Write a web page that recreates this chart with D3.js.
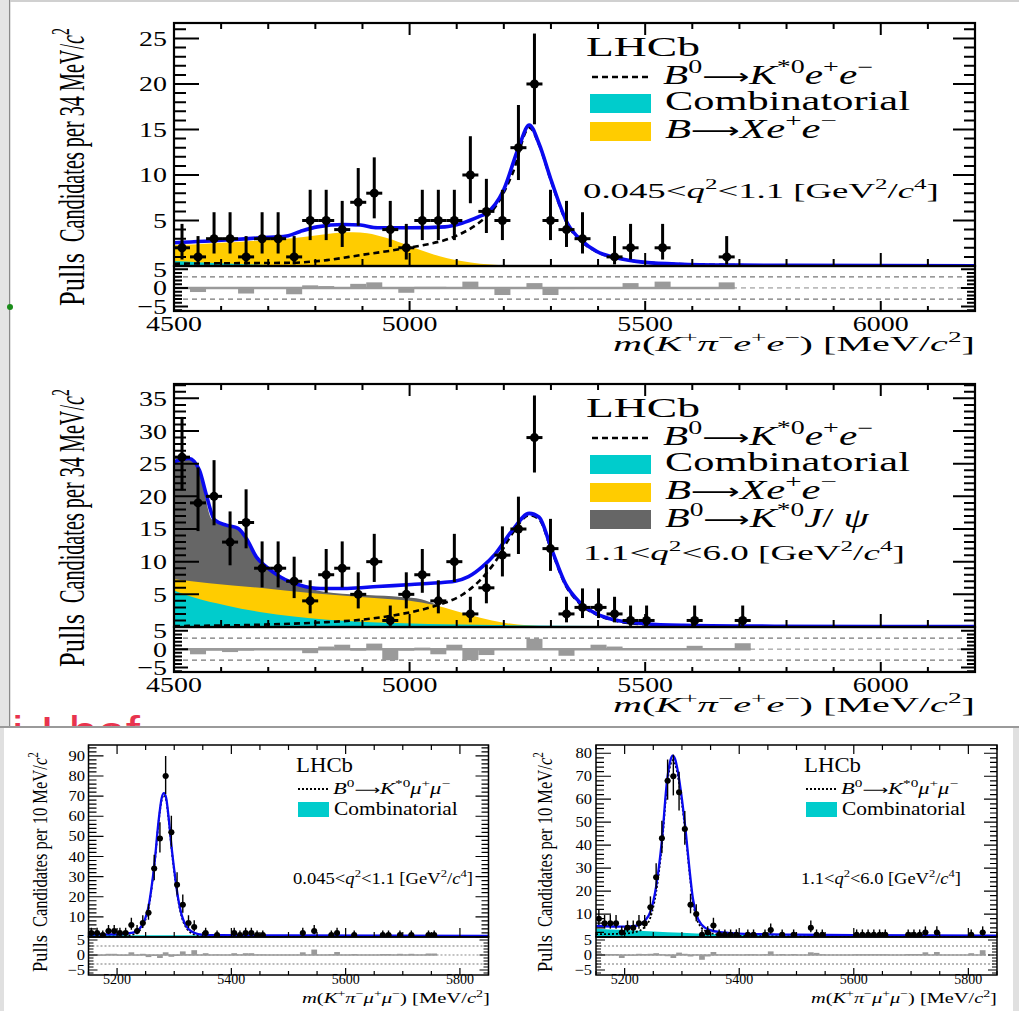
<!DOCTYPE html>
<html><head><meta charset="utf-8">
<script src="https://cdn.jsdelivr.net/npm/d3@7"></script>
<style>body{margin:0;background:#fff}svg{display:block}</style>
</head><body>
<script>
// ================= DATA =================
// Panel A: B0 -> K*0 e+e-, 0.045 < q2 < 1.1 (34 MeV bins)
const eeLowMass   = [4517,4551,4585,4619,4653,4687,4721,4755,4789,4823,4857,4891,4925,4959,4993,5027,5061,5095,5129,5163,5197,5231,5265,5299,5333,5367,5435,5469,5537,5673];
const eeLowCounts = [2,1,3,3,1,3,3,1,5,5,4,7,8,4,2,5,5,5,10,6,5,13,20,5,4,3,1,2,2,1];
const eeLowPulls  = [-0.3,-1.1,0.2,0.2,-1.5,0.1,0.1,-1.7,0.7,0.5,0.0,1.1,1.5,0.0,-1.3,0.3,0.3,0.2,1.7,0.2,-1.9,-0.2,1.3,-1.9,-0.3,0.0,0.1,1.3,1.7,1.5];
const eeLowTotalMass = [4500,4611,4682,4739,4768,4804,4861,4896,4932,5004,5075,5111,5146,5163,5199,5232,5254,5275,5300,5335,5367,5397,5438,5500,5580,5700,6000,6200];
const eeLowTotal     = [2.55,2.85,3.1,3.3,3.8,4.3,4.56,4.5,4.2,4.2,4.3,4.7,5.4,5.8,8.3,13.1,15.5,13.4,9.5,4.7,2.7,1.6,0.9,0.4,0.2,0.1,0.04,0.02];
const eeLowSigMass   = [4500,4600,4700,4754,4825,4896,4968,5039,5075,5111,5146,5182,5218,5254,5275,5300,5335,5367,5400,5450,5500,5600,5800,6200];
const eeLowSig       = [0.25,0.3,0.33,0.36,0.65,1.2,1.75,2.4,2.85,3.6,4.7,6.5,10.1,15.2,13.3,9.4,4.6,2.6,1.5,0.8,0.4,0.18,0.06,0.01];
const eeLowXeeMass   = [4500,4550,4600,4650,4700,4750,4800,4850,4880,4910,4950,5000,5040,5080,5110,5150,5180,5220,5260];
const eeLowXee       = [2.3,2.4,2.55,2.7,2.85,3.05,3.35,3.65,3.7,3.6,3.1,2.2,1.45,0.85,0.55,0.25,0.13,0.04,0];
const eeLowCombMass  = [4500,4550,4600,4650,4700,4800,4900,5000,5200,6200];
const eeLowComb      = [0.55,0.42,0.3,0.2,0.12,0.06,0.03,0.02,0.01,0];

// Panel B: B0 -> K*0 e+e-, 1.1 < q2 < 6.0 (34 MeV bins)
const eeCenMass   = [4517,4551,4585,4619,4653,4687,4721,4755,4789,4823,4857,4891,4925,4959,4993,5027,5061,5095,5129,5163,5197,5231,5265,5299,5333,5367,5401,5435,5469,5503,5605,5707];
const eeCenCounts = [26,19,20,13,16,9,9,7,4,8,9,5,10,1,5,8,4,10,2,6,11,15,29,12,2,3,3,2,1,1,1,1];
const eeCenPulls  = [0.1,-1.4,-0.4,-0.8,-0.4,-0.2,0.0,0.0,-1.1,0.7,1.2,-0.4,1.5,-3.0,-0.4,0.4,-1.4,1.2,-3.0,-1.6,-0.1,0.0,2.8,0.0,-1.8,-0.1,1.2,0.7,0.3,0.3,0.9,1.6];
const eeCenTotalMass = [4500,4532,4554,4568,4586,4611,4636,4654,4675,4696,4725,4768,4811,4868,4932,5004,5075,5096,5125,5154,5182,5218,5254,5275,5300,5331,5361,5397,5434,5500,5581,5700,6000,6200];
const eeCenTotal     = [25.3,25.8,24.0,20.4,16.4,15.6,15.1,13.5,10.7,9.2,7.7,6.4,5.9,5.9,6.2,6.5,6.85,7.0,7.7,9.2,11.2,14.8,17.4,16.8,12.2,6.6,3.8,2.0,1.1,0.5,0.25,0.15,0.08,0.05];
const eeCenSigMass   = [4500,4682,4825,4896,4968,5039,5075,5111,5146,5182,5218,5254,5275,5300,5331,5361,5397,5434,5500,5600,5800,6200];
const eeCenSig       = [0.15,0.35,0.75,1.1,1.8,2.9,3.7,4.9,6.9,10.0,14.3,17.1,16.5,12.0,6.4,3.6,1.9,1.0,0.4,0.15,0.05,0.01];
const eeCenJpsiMass  = [4500,4532,4554,4580,4611,4636,4654,4675,4696,4725,4768,4804,4839,4911,4982,5025,5060];
const eeCenJpsi      = [25.2,25.6,23.8,16.5,15.6,15.0,13.4,10.8,9.5,7.7,6.4,5.6,5.2,4.9,4.6,4.25,3.3];
const eeCenXeeMass   = [4500,4575,4682,4789,4896,4968,5000,5050,5100,5150,5200,5250,5300,5350];
const eeCenXee       = [7.3,6.7,6.0,5.2,4.6,4.2,4.0,3.4,2.4,1.4,0.65,0.25,0.08,0];
const eeCenCombMass  = [4500,4539,4611,4682,4754,4825,4896,4968,5039,5182,5325,5500,5800,6200];
const eeCenComb      = [5.6,4.6,3.3,2.3,1.6,1.1,0.8,0.6,0.45,0.3,0.2,0.12,0.07,0.04];

// Panel C: B0 -> K*0 mu+mu-, 0.045 < q2 < 1.1 (10 MeV bins)
const mmLowMass   = [5155,5165,5175,5185,5195,5205,5215,5225,5235,5245,5255,5265,5275,5285,5295,5305,5315,5325,5335,5355,5375,5405,5415,5425,5435,5445,5455,5525,5545,5575,5585,5615,5665,5675,5695,5715,5745,5755];
const mmLowCounts = [2,2,1,3,3,2,2,6,3,7,12,34,49,80,52,26,16,7,5,2,1,2,1,2,2,1,1,2,3,1,2,1,1,1,1,1,1,1];
const mmLowPulls  = [-0.4,-0.3,-0.2,0.4,0.4,-0.2,-0.2,0.9,-0.1,0.4,-0.7,-0.3,-1.0,0.9,-0.6,-0.3,1.2,0.2,1.6,0.6,0.1,0.6,0.1,0.6,0.6,0.1,0.1,0.9,1.8,0.2,1.0,0.3,0.3,0.3,0.4,0.4,0.5,0.5];
const mmLowTotalMass = [5150,5200,5225,5235,5243,5249,5255,5260,5266,5272,5278,5282,5286,5290,5296,5302,5307,5313,5319,5325,5336,5348,5380,5500,5850];
const mmLowTotal     = [1.2,1.3,2.0,3.0,5.5,9,15,24,38,56,69,71.5,69,60,43,29,19,11,6.5,4.0,2.0,1.2,0.9,0.8,0.6];
const mmLowSig       = [0.2,0.35,1.05,2.05,4.55,8.05,14.05,23.05,37.05,55.05,68.05,70.55,68.05,59.1,42.1,28.1,18.1,10.1,5.6,3.1,1.15,0.4,0.1,0.1,0.05];
const mmLowCombMass  = [5150,5300,5500,5850];
const mmLowComb      = [1.0,0.85,0.7,0.55];

// Panel D: B0 -> K*0 mu+mu-, 1.1 < q2 < 6.0 (10 MeV bins)
const mmCenMass   = [5155,5165,5175,5185,5195,5205,5215,5225,5235,5245,5255,5265,5275,5285,5295,5305,5315,5325,5335,5345,5355,5365,5375,5385,5395,5415,5425,5445,5455,5475,5495,5525,5535,5545,5605,5615,5625,5635,5645,5655,5695,5705,5715,5725,5745,5805,5825];
const mmCenCounts = [8,6,6,6,2,4,4,6,6,13,26,43,68,70,63,47,14,10,1,2,5,1,1,1,1,1,1,1,3,1,1,4,1,1,1,1,1,1,1,1,1,1,1,2,2,1,2];
const mmCenPulls  = [0.6,0.3,0.3,0.3,-1.0,-0.2,-0.2,0.4,0.3,0.4,0.6,0.2,-0.4,-1.0,0.8,0.4,-0.5,0.1,-1.6,-0.5,1.0,0.1,0.1,0.1,0.1,0.2,0.2,0.2,1.2,0.3,0.3,0.9,0.7,0.2,0.2,0.2,0.2,0.2,0.2,0.2,0.3,0.3,0.3,0.9,1.0,0.6,1.6];
const mmCenTotalMass = [5150,5200,5220,5235,5245,5255,5265,5274,5280,5284,5288,5293,5300,5307,5313,5319,5325,5334,5349,5372,5400,5500,5600,5850];
const mmCenTotal     = [4.8,4.5,4.9,7.0,11,22,42,68,77,79,77.5,72,60,45,30,17,10,5.5,3.0,2.0,1.5,1.0,0.8,0.6];
const mmCenSig       = [1.2,1.5,2.2,4.4,8.5,19.6,39.7,65.8,75,77,75.5,70,58.2,43.3,28.5,15.6,8.7,4.1,1.8,0.9,0.5,0.4,0.4,0.4];
const mmCenCombMass  = [5150,5200,5250,5300,5335,5400,5500,5600,5700,5850];
const mmCenComb      = [3.6,3.0,2.4,1.8,1.4,1.0,0.6,0.4,0.3,0.2];

// Tick labels
const eeXLabels = [4500,5000,5500,6000];
const mmXLabels = [5200,5400,5600,5800];
const pullLabels = [5,0,-5];

// ================= DRAWING =================
const W = 1019, H = 1011;
const svg = d3.select("body").append("svg").attr("width", W).attr("height", H)
  .style("font-family", "'Liberation Serif','Times New Roman',serif");
const defs = svg.append("defs");

const C = { blue:"#0a0af0", cyan:"#00cccc", yellow:"#ffcc00", jpsi:"#666666", pull:"#9a9a9a" };

// page decorations (screenshot surroundings)
svg.append("rect").attr("x",0).attr("y",0).attr("width",8).attr("height",727).attr("fill","#e4e4e4");
svg.append("line").attr("x1",9.5).attr("x2",9.5).attr("y1",0).attr("y2",727).attr("stroke","#8a8a8a").attr("stroke-width",1.5);
svg.append("line").attr("x1",10).attr("x2",W).attr("y1",1).attr("y2",1).attr("stroke","#d0d0d0").attr("stroke-width",2);
svg.append("circle").attr("cx",10).attr("cy",307).attr("r",3).attr("fill","#1a8c1a");
const redClip = defs.append("clipPath").attr("id","redclip");
redClip.append("rect").attr("x",10).attr("y",700).attr("width",200).attr("height",26);
const redG = svg.append("g").attr("clip-path","url(#redclip)");
redG.append("text").attr("x",12).attr("y",746).attr("font-size",42).attr("fill","#e8344e")
  .attr("textLength",128).attr("lengthAdjust","spacingAndGlyphs")
  .style("font-family","'Liberation Sans',sans-serif").text("i-Lbef");
svg.append("rect").attr("x",0).attr("y",726).attr("width",W).attr("height",2).attr("fill","#9a9a9a");
svg.append("rect").attr("x",0).attr("y",728).attr("width",4).attr("height",H-728).attr("fill","#e0e0e0");
svg.append("rect").attr("x",1013).attr("y",728).attr("width",6).attr("height",H-728).attr("fill","#e0e0e0");

// ---------- text helpers ----------
function rich(sel, parts, fs) {
  let cur = 0;
  parts.forEach(p => {
    const s = p[0], f = p[1] || "";
    const t = sel.append("tspan").text(s);
    let target = 0, size = fs;
    if (f.includes("^")) { target = -0.42 * fs; size = 0.68 * fs; }
    if (target !== cur) { t.attr("dy", target - cur); cur = target; }
    t.attr("font-size", size);
    if (f.includes("i")) t.attr("font-style", "italic");
    if (f.includes("a")) t.style("font-family", "'DejaVu Sans',sans-serif").attr("font-size", size * 0.8);
  });
}
function label(parent, parts, o) {
  const g = parent.append("g");
  const t = g.append("text").attr("font-size", o.fs).style("white-space", "pre").attr("fill", o.color || "#000");
  if (typeof parts === "string" || typeof parts === "number") parts = [[String(parts)]];
  rich(t, parts, o.fs);
  const w = t.node().getBBox().width;
  const sx = o.width ? o.width / w : (o.sx || 1);
  const sy = o.sy || 1;
  const W2 = w * sx;
  const dx = o.anchor === "end" ? -W2 : o.anchor === "middle" ? -W2 / 2 : 0;
  t.attr("transform", `translate(${dx},0) scale(${sx},${sy})`);
  g.attr("transform", o.rotate ? `translate(${o.x},${o.y}) rotate(-90)` : `translate(${o.x},${o.y})`);
  return g;
}

function garwood(n) {
  if (n === 0) return [0, 1.841];
  const lo = n * Math.pow(1 - 1 / (9 * n) - 1 / (3 * Math.sqrt(n)), 3);
  const m = n + 1;
  const hi = m * Math.pow(1 - 1 / (9 * m) + 1 / (3 * Math.sqrt(m)), 3);
  return [lo, hi];
}
function rangeStep(a, b, s) { const out = []; for (let v = a; v <= b + 1e-9; v += s) out.push(+v.toFixed(6)); return out; }

// ---------- panel ----------
function drawPanel(c) {
  const g = svg.append("g");
  const x = d3.scaleLinear().domain(c.xDomain).range(c.xRange);
  const y = d3.scaleLinear().domain(c.yDomain).range(c.yRange);
  const yp = d3.scaleLinear().domain(c.pDomain).range(c.pRange);
  const [x0, x1] = c.xRange, yB = c.yRange[0], yT = c.yRange[1], pB = c.pRange[0];
  const cid = c.id + "-clip";
  defs.append("clipPath").attr("id", cid).append("rect")
    .attr("x", x0).attr("y", yT).attr("width", x1 - x0).attr("height", yB - yT);
  const plot = g.append("g").attr("clip-path", `url(#${cid})`);

  c.areas.forEach(a => {
    const area = d3.area().x((d, i) => x(a.mass[i])).y0(y(0)).y1(d => y(d)).curve(d3.curveMonotoneX);
    plot.append("path").datum(a.vals).attr("d", area).attr("fill", a.color);
  });
  const mkLine = m => d3.line().x((d, i) => x(m[i])).y(d => y(d)).curve(d3.curveMonotoneX);
  plot.append("path").datum(c.sig.vals).attr("d", mkLine(c.sig.mass)).attr("fill", "none")
    .attr("stroke", "#000").attr("stroke-width", c.st.sigW).attr("stroke-dasharray", c.st.sigDash);
  plot.append("path").datum(c.tot.vals).attr("d", mkLine(c.tot.mass)).attr("fill", "none")
    .attr("stroke", C.blue).attr("stroke-width", c.st.blueW);

  // data points
  const hb = c.bw / 2;
  const pts = plot.append("g").attr("stroke", "#000").attr("stroke-width", c.st.errW);
  c.mass.forEach((m, i) => {
    const n = c.counts[i], [lo, hi] = garwood(n);
    pts.append("line").attr("x1", x(m)).attr("x2", x(m)).attr("y1", y(lo)).attr("y2", y(hi));
    pts.append("line").attr("x1", x(m - hb)).attr("x2", x(m + hb)).attr("y1", y(n)).attr("y2", y(n));
    pts.append("circle").attr("cx", x(m)).attr("cy", y(n)).attr("r", c.st.r).attr("fill", "#000").attr("stroke", "none");
  });

  // pulls panel
  const pg = g.append("g");
  [3, -3].forEach(v => pg.append("line").attr("x1", x0).attr("x2", x1).attr("y1", yp(v)).attr("y2", yp(v))
    .attr("stroke", "#777").attr("stroke-width", 1.2).attr("stroke-dasharray", c.st.pullDash));
  pg.append("line").attr("x1", x0).attr("x2", x1).attr("y1", yp(0)).attr("y2", yp(0))
    .attr("stroke", "#888").attr("stroke-width", 1).attr("stroke-dasharray", c.st.pullDash);
  const lastM = c.mass[c.mass.length - 1];
  pg.append("line").attr("x1", x0).attr("x2", x(lastM + hb)).attr("y1", yp(0)).attr("y2", yp(0))
    .attr("stroke", C.pull).attr("stroke-width", c.st.zeroW);
  c.mass.forEach((m, i) => {
    const p = c.pulls[i];
    pg.append("rect").attr("x", x(m - hb)).attr("width", x(m + hb) - x(m - hb))
      .attr("y", Math.min(yp(0), yp(p))).attr("height", Math.abs(yp(p) - yp(0)))
      .attr("fill", C.pull);
  });

  // frame and ticks
  const fr = g.append("g").attr("stroke", "#000").attr("fill", "none");
  let d = "";
  const T = c.ticks;
  rangeStep(c.yDomain[0], c.yDomain[1], T.yMinor).forEach(v => {
    const major = Math.abs(v / T.yMajor - Math.round(v / T.yMajor)) < 1e-6;
    d += `M${x0},${y(v)}h${major ? T.yL : T.yl}M${x1},${y(v)}h${-(major ? T.yR : T.yr)}`;
  });
  rangeStep(Math.ceil(c.pDomain[0]), Math.floor(c.pDomain[1]), 1).forEach(v => {
    const major = v % 5 === 0;
    d += `M${x0},${yp(v)}h${major ? T.pL : T.pl}M${x1},${yp(v)}h${-(major ? T.pL : T.pl)}`;
  });
  rangeStep(c.xDomain[0], c.xDomain[1], T.xMinor).forEach(v => {
    const major = Math.abs(v / T.xMajor - Math.round(v / T.xMajor)) < 1e-6;
    const xv = x(v);
    d += `M${xv},${yT}v${major ? T.xT : T.xt}`;
    d += `M${xv},${yB}v${-(major ? T.xB : T.xb)}`;
    d += `M${xv},${pB}v${-(major ? T.xP : T.xp)}`;
  });
  fr.append("path").attr("d", d).attr("stroke-width", T.w);
  fr.append("rect").attr("x", x0).attr("y", yT).attr("width", x1 - x0).attr("height", yB - yT).attr("stroke-width", c.st.frameW);
  fr.append("rect").attr("x", x0).attr("y", yB).attr("width", x1 - x0).attr("height", pB - yB).attr("stroke-width", c.st.frameW);

  // tick labels
  const L = c.lab;
  rangeStep(c.yDomain[0] + T.yMajor, c.yDomain[1], T.yMajor).forEach(v =>
    label(g, String(v), { x: L.yRight, y: y(v) + L.yFs * 0.34, fs: L.yFs, sx: L.ySx, anchor: "end" }));
  pullLabels.forEach(v =>
    label(g, v < 0 ? "\u2212" + Math.abs(v) : String(v), { x: L.yRight, y: yp(v) + L.yFs * 0.34, fs: L.yFs, sx: L.ySx, anchor: "end" }));
  c.xLabels.forEach(v =>
    label(g, String(v), { x: x(v), y: L.xBase, fs: L.xFs, sx: L.xSx, anchor: "middle" }));
  return { x, y, g };
}

const AR = ["\u27F6", "a"];
const sigEE = [["B","i"],["0","^"],AR,["K","i"],["*0","^"],["e","i"],["+","^"],["e","i"],["\u2212","^"]];
const xeeP  = [["B","i"],AR,["X","i"],["e","i"],["+","^"],["e","i"],["\u2212","^"]];
const jpsiP = [["B","i"],["0","^"],AR,["K","i"],["*0","^"],["J","i"],["/ "],["\u03c8","i"]];
const sigMM = [["B","i"],["0","^"],AR,["K","i"],["*0","^"],["\u03bc","i"],["+","^"],["\u03bc","i"],["\u2212","^"]];
const q2Low = [["0.045<"],["q","i"],["2","^"],["<1.1 [GeV"],["2","^"],["/"],["c","i"],["4","^"],["]"]];
const q2Cen = [["1.1<"],["q","i"],["2","^"],["<6.0 [GeV"],["2","^"],["/"],["c","i"],["4","^"],["]"]];
const xTitleEE = [["m","i"],["("],["K","i"],["+","^"],["\u03c0","i"],["\u2212","^"],["e","i"],["+","^"],["e","i"],["\u2212","^"],[") [MeV/"],["c","i"],["2","^"],["]"]];
const xTitleMM = [["m","i"],["("],["K","i"],["+","^"],["\u03c0","i"],["\u2212","^"],["\u03bc","i"],["+","^"],["\u03bc","i"],["\u2212","^"],[") [MeV/"],["c","i"],["2","^"],["]"]];
const yTitle34 = [["Candidates per 34 MeV/"],["c","i"],["2","^"]];
const yTitle10 = [["Candidates per 10 MeV/"],["c","i"],["2","^"]];

const stEE = { sigW: 2.6, sigDash: "6,4", blueW: 3.6, errW: 3, r: 4.5, frameW: 2.2, pullDash: "5,4", zeroW: 2.5 };
const stMM = { sigW: 1.8, sigDash: "2,2", blueW: 2.3, errW: 1.4, r: 3, frameW: 1.5, pullDash: "2,2", zeroW: 1.5 };
const tkEE = { yMajor: 5, yMinor: 1, yL: 25, yl: 12, yR: 22, yr: 11, pL: 14, pl: 8, xMajor: 500, xMinor: 100, xT: 12, xt: 6, xB: 13, xb: 7, xP: 10, xp: 5, w: 2 };
const tkMM = { yMajor: 10, yMinor: 2, yL: 15, yl: 8, yR: 13, yr: 7, pL: 9, pl: 5, xMajor: 200, xMinor: 50, xT: 9, xt: 5, xB: 9, xb: 5, xP: 7, xp: 4, w: 1.2 };

// ---- Panel A ----
drawPanel({
  id: "A", xDomain: [4500, 6200], xRange: [174, 975], yDomain: [0, 26.7], yRange: [266, 23],
  pDomain: [-6.2, 5.9], pRange: [311, 266], bw: 34,
  mass: eeLowMass, counts: eeLowCounts, pulls: eeLowPulls,
  areas: [{ mass: eeLowXeeMass, vals: eeLowXee, color: C.yellow }, { mass: eeLowCombMass, vals: eeLowComb, color: C.cyan }],
  sig: { mass: eeLowSigMass, vals: eeLowSig }, tot: { mass: eeLowTotalMass, vals: eeLowTotal },
  st: stEE, ticks: tkEE, xLabels: eeXLabels,
  lab: { yRight: 167, yFs: 22, ySx: 1.27, xBase: 331, xFs: 22, xSx: 1.27 }
});
// ---- Panel B ----
drawPanel({
  id: "B", xDomain: [4500, 6200], xRange: [174, 975], yDomain: [0, 37.2], yRange: [627, 384],
  pDomain: [-6.2, 6.0], pRange: [672, 627], bw: 34,
  mass: eeCenMass, counts: eeCenCounts, pulls: eeCenPulls,
  areas: [{ mass: eeCenJpsiMass, vals: eeCenJpsi, color: C.jpsi }, { mass: eeCenXeeMass, vals: eeCenXee, color: C.yellow }, { mass: eeCenCombMass, vals: eeCenComb, color: C.cyan }],
  sig: { mass: eeCenSigMass, vals: eeCenSig }, tot: { mass: eeCenTotalMass, vals: eeCenTotal },
  st: stEE, ticks: tkEE, xLabels: eeXLabels,
  lab: { yRight: 167, yFs: 22, ySx: 1.27, xBase: 692, xFs: 22, xSx: 1.27 }
});
// ---- Panel C ----
drawPanel({
  id: "C", xDomain: [5150, 5850], xRange: [88.5, 488.5], yDomain: [0, 95.4], yRange: [937, 745],
  pDomain: [-6.67, 6], pRange: [975, 937], bw: 10,
  mass: mmLowMass, counts: mmLowCounts, pulls: mmLowPulls,
  areas: [{ mass: mmLowCombMass, vals: mmLowComb, color: C.cyan }],
  sig: { mass: mmLowTotalMass, vals: mmLowSig }, tot: { mass: mmLowTotalMass, vals: mmLowTotal },
  st: stMM, ticks: tkMM, xLabels: mmXLabels,
  lab: { yRight: 85, yFs: 15, ySx: 1.1, xBase: 984, xFs: 14, xSx: 1.0 }
});
// ---- Panel D ----
drawPanel({
  id: "D", xDomain: [5150, 5850], xRange: [596, 997], yDomain: [0, 83.6], yRange: [937, 745],
  pDomain: [-6.67, 6], pRange: [975, 937], bw: 10,
  mass: mmCenMass, counts: mmCenCounts, pulls: mmCenPulls,
  areas: [{ mass: mmCenCombMass, vals: mmCenComb, color: C.cyan }],
  sig: { mass: mmCenTotalMass, vals: mmCenSig }, tot: { mass: mmCenTotalMass, vals: mmCenTotal },
  st: stMM, ticks: tkMM, xLabels: mmXLabels,
  lab: { yRight: 592, yFs: 15, ySx: 1.1, xBase: 984, xFs: 14, xSx: 1.0 }
});

// ---------- titles and legends ----------
function eeLegend(dy, withJpsi, q2parts, q2w, q2y) {
  label(svg, "LHCb", { x: 586, y: 56 + dy, fs: 27, width: 114, sy: 1.05 });
  svg.append("line").attr("x1", 592).attr("x2", 648).attr("y1", 77 + dy).attr("y2", 77 + dy)
    .attr("stroke", "#000").attr("stroke-width", 2.6).attr("stroke-dasharray", "6,4");
  label(svg, sigEE, { x: 663, y: 84 + dy, fs: 25, width: 210, sy: 1.05 });
  svg.append("rect").attr("x", 590).attr("y", 94 + dy).attr("width", 61).attr("height", 19).attr("fill", C.cyan);
  label(svg, "Combinatorial", { x: 665, y: 110 + dy, fs: 26, width: 245, sy: 1.08 });
  svg.append("rect").attr("x", 590).attr("y", 122 + dy).attr("width", 61).attr("height", 19).attr("fill", C.yellow);
  label(svg, xeeP, { x: 665, y: 138 + dy, fs: 26, width: 172, sy: 1.05 });
  if (withJpsi) {
    svg.append("rect").attr("x", 590).attr("y", 149 + dy).attr("width", 61).attr("height", 19).attr("fill", C.jpsi);
    label(svg, jpsiP, { x: 665, y: 166 + dy, fs: 26, width: 205, sy: 1.05 });
  }
  label(svg, q2parts, { x: 583, y: q2y, fs: 22, width: q2w });
}
eeLegend(0, false, q2Low, 356, 198);
eeLegend(361, true, q2Cen, 322, 560);

[0, 361].forEach(dy => {
  label(svg, xTitleEE, { x: 975, y: 351 + dy, fs: 22, width: 362, anchor: "end" });
  label(svg, yTitle34, { x: 84, y: 242 + dy, fs: 20.5, width: 214, sy: 1.75, rotate: true });
  label(svg, "Pulls", { x: 84, y: 306 + dy, fs: 20.5, width: 53, sy: 1.75, rotate: true });
});

function mmLegend(dx, q2parts, q2w) {
  label(svg, "LHCb", { x: 296 + dx, y: 772, fs: 20, width: 57 });
  svg.append("line").attr("x1", 298 + dx).attr("x2", 328 + dx).attr("y1", 789).attr("y2", 789)
    .attr("stroke", "#000").attr("stroke-width", 1.8).attr("stroke-dasharray", "2,2");
  label(svg, sigMM, { x: 333 + dx, y: 794, fs: 16, width: 117 });
  svg.append("rect").attr("x", 298 + dx).attr("y", 802).attr("width", 31).attr("height", 15).attr("fill", C.cyan);
  label(svg, "Combinatorial", { x: 334 + dx, y: 815, fs: 18, width: 124 });
  label(svg, q2parts, { x: 293 + dx, y: 884, fs: 16, width: q2w });
}
mmLegend(0, q2Low, 180);
mmLegend(508, q2Cen, 160);
label(svg, xTitleMM, { x: 490, y: 1003, fs: 15, width: 188, anchor: "end" });
label(svg, xTitleMM, { x: 997, y: 1003, fs: 15, width: 186, anchor: "end" });
label(svg, yTitle10, { x: 47, y: 927, fs: 16.5, width: 175, sy: 1.25, rotate: true });
label(svg, "Pulls", { x: 47, y: 972, fs: 16.5, width: 37, sy: 1.25, rotate: true });
label(svg, yTitle10, { x: 552, y: 927, fs: 16.5, width: 175, sy: 1.25, rotate: true });
label(svg, "Pulls", { x: 552, y: 972, fs: 16.5, width: 37, sy: 1.25, rotate: true });
</script>
</body></html>
